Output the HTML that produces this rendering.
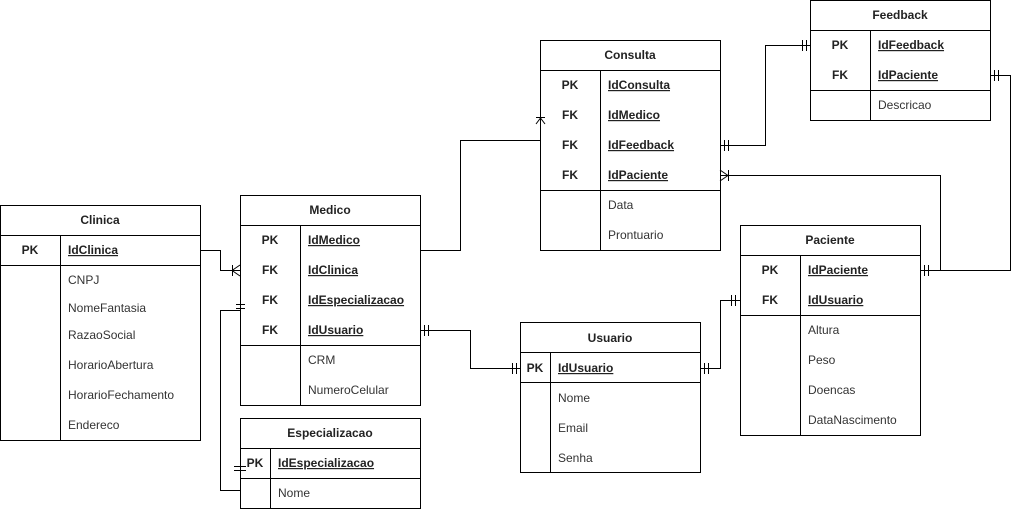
<!DOCTYPE html>
<html><head><meta charset="utf-8"><style>
html,body{margin:0;padding:0;background:#fff}
svg{display:block}
text{font-family:"Liberation Sans",Arial,sans-serif;font-size:12px}
.h{font-weight:bold;fill:#222;text-anchor:middle}
.k{font-weight:bold;fill:#222}
.kc{font-weight:bold;fill:#222;text-anchor:middle}
.a{fill:#333}
</style></head><body>
<svg width="1020" height="509" viewBox="0 0 1020 509">
<g fill="none" stroke="#000" stroke-width="1">
<rect x="0.5" y="205.5" width="200" height="235"/>
<line x1="0" y1="235.5" x2="200" y2="235.5"/><line x1="0" y1="265.5" x2="200" y2="265.5"/>
<line x1="60.5" y1="235" x2="60.5" y2="440"/>
<rect x="240.5" y="195.5" width="180" height="210"/>
<line x1="240" y1="225.5" x2="420" y2="225.5"/><line x1="240" y1="345.5" x2="420" y2="345.5"/>
<line x1="300.5" y1="225" x2="300.5" y2="405"/>
<rect x="240.5" y="418.5" width="180" height="90"/>
<line x1="240" y1="448.5" x2="420" y2="448.5"/><line x1="240" y1="478.5" x2="420" y2="478.5"/>
<line x1="270.5" y1="448" x2="270.5" y2="508"/>
<rect x="540.5" y="40.5" width="180" height="210"/>
<line x1="540" y1="70.5" x2="720" y2="70.5"/><line x1="540" y1="190.5" x2="720" y2="190.5"/>
<line x1="600.5" y1="70" x2="600.5" y2="250"/>
<rect x="810.5" y="0.5" width="180" height="120"/>
<line x1="810" y1="30.5" x2="990" y2="30.5"/><line x1="810" y1="90.5" x2="990" y2="90.5"/>
<line x1="870.5" y1="30" x2="870.5" y2="120"/>
<rect x="740.5" y="225.5" width="180" height="210"/>
<line x1="740" y1="255.5" x2="920" y2="255.5"/><line x1="740" y1="315.5" x2="920" y2="315.5"/>
<line x1="800.5" y1="255" x2="800.5" y2="435"/>
<rect x="520.5" y="322.5" width="180" height="150"/>
<line x1="520" y1="352.5" x2="700" y2="352.5"/><line x1="520" y1="382.5" x2="700" y2="382.5"/>
<line x1="550.5" y1="352" x2="550.5" y2="472"/>

<polyline points="200,250.5 220.5,250.5 220.5,270.5 240,270.5"/>
<line x1="232.5" y1="265" x2="232.5" y2="276"/><line x1="240" y1="265" x2="232" y2="270.5"/><line x1="240" y1="276" x2="232" y2="270.5"/>

<polyline points="240,310.5 220.5,310.5 220.5,490.5 240,490.5"/>
<line x1="236" y1="304.5" x2="245" y2="304.5"/><line x1="236" y1="308.5" x2="245" y2="308.5"/>
<line x1="234" y1="466.5" x2="246" y2="466.5"/><line x1="234" y1="470.5" x2="246" y2="470.5"/>

<polyline points="420,250.5 460.5,250.5 460.5,140.5 540,140.5"/>
<line x1="540.5" y1="112" x2="540.5" y2="125"/>
<line x1="536" y1="117.5" x2="545" y2="117.5"/>
<line x1="540.5" y1="118" x2="536" y2="124"/><line x1="540.5" y1="118" x2="545" y2="124"/>

<polyline points="720,145.5 765.5,145.5 765.5,45.5 810,45.5"/>
<line x1="724.5" y1="140" x2="724.5" y2="151"/><line x1="728.5" y1="140" x2="728.5" y2="151"/>
<line x1="802.5" y1="40" x2="802.5" y2="51"/><line x1="806.5" y1="40" x2="806.5" y2="51"/>

<polyline points="920,270.5 940.5,270.5 940.5,175.5 720,175.5"/>
<line x1="728.5" y1="170" x2="728.5" y2="181"/><line x1="720" y1="170" x2="728" y2="175.5"/><line x1="720" y1="181" x2="728" y2="175.5"/>
<line x1="924.5" y1="265" x2="924.5" y2="276"/><line x1="928.5" y1="265" x2="928.5" y2="276"/>

<polyline points="940,270.5 1010.5,270.5 1010.5,75.5 990,75.5"/>
<line x1="994.5" y1="70" x2="994.5" y2="81"/><line x1="998.5" y1="70" x2="998.5" y2="81"/>

<polyline points="420,330.5 470.5,330.5 470.5,368.5 520,368.5"/>
<line x1="424.5" y1="325" x2="424.5" y2="336"/><line x1="428.5" y1="325" x2="428.5" y2="336"/>
<line x1="512.5" y1="363" x2="512.5" y2="374"/><line x1="516.5" y1="363" x2="516.5" y2="374"/>

<polyline points="700,368.5 720.5,368.5 720.5,300.5 740,300.5"/>
<line x1="704.5" y1="363" x2="704.5" y2="374"/><line x1="708.5" y1="363" x2="708.5" y2="374"/>
<line x1="731.5" y1="295" x2="731.5" y2="306"/><line x1="735.5" y1="295" x2="735.5" y2="306"/>
</g>

<text class="h" x="100" y="224">Clinica</text>
<text class="kc" x="30" y="254">PK</text><text class="k" x="68" y="254" text-decoration="underline">IdClinica</text>
<text class="a" x="68" y="284">CNPJ</text>
<text class="a" x="68" y="312">NomeFantasia</text>
<text class="a" x="68" y="339">RazaoSocial</text>
<text class="a" x="68" y="369">HorarioAbertura</text>
<text class="a" x="68" y="399">HorarioFechamento</text>
<text class="a" x="68" y="429">Endereco</text>
<text class="h" x="330" y="214">Medico</text>
<text class="kc" x="270" y="244">PK</text><text class="k" x="308" y="244" text-decoration="underline">IdMedico</text>
<text class="kc" x="270" y="274">FK</text><text class="k" x="308" y="274" text-decoration="underline">IdClinica</text>
<text class="kc" x="270" y="304">FK</text><text class="k" x="308" y="304" text-decoration="underline">IdEspecializacao</text>
<text class="kc" x="270" y="334">FK</text><text class="k" x="308" y="334" text-decoration="underline">IdUsuario</text>
<text class="a" x="308" y="364">CRM</text>
<text class="a" x="308" y="394">NumeroCelular</text>
<text class="h" x="330" y="437">Especializacao</text>
<text class="kc" x="255" y="467">PK</text><text class="k" x="278" y="467" text-decoration="underline">IdEspecializacao</text>
<text class="a" x="278" y="497">Nome</text>
<text class="h" x="630" y="59">Consulta</text>
<text class="kc" x="570" y="89">PK</text><text class="k" x="608" y="89" text-decoration="underline">IdConsulta</text>
<text class="kc" x="570" y="119">FK</text><text class="k" x="608" y="119" text-decoration="underline">IdMedico</text>
<text class="kc" x="570" y="149">FK</text><text class="k" x="608" y="149" text-decoration="underline">IdFeedback</text>
<text class="kc" x="570" y="179">FK</text><text class="k" x="608" y="179" text-decoration="underline">IdPaciente</text>
<text class="a" x="608" y="209">Data</text>
<text class="a" x="608" y="239">Prontuario</text>
<text class="h" x="900" y="19">Feedback</text>
<text class="kc" x="840" y="49">PK</text><text class="k" x="878" y="49" text-decoration="underline">IdFeedback</text>
<text class="kc" x="840" y="79">FK</text><text class="k" x="878" y="79" text-decoration="underline">IdPaciente</text>
<text class="a" x="878" y="109">Descricao</text>
<text class="h" x="830" y="244">Paciente</text>
<text class="kc" x="770" y="274">PK</text><text class="k" x="808" y="274" text-decoration="underline">IdPaciente</text>
<text class="kc" x="770" y="304">FK</text><text class="k" x="808" y="304" text-decoration="underline">IdUsuario</text>
<text class="a" x="808" y="334">Altura</text>
<text class="a" x="808" y="364">Peso</text>
<text class="a" x="808" y="394">Doencas</text>
<text class="a" x="808" y="424">DataNascimento</text>
<text class="h" x="610" y="342">Usuario</text>
<text class="kc" x="535" y="372">PK</text><text class="k" x="558" y="372" text-decoration="underline">IdUsuario</text>
<text class="a" x="558" y="402">Nome</text>
<text class="a" x="558" y="432">Email</text>
<text class="a" x="558" y="462">Senha</text>
</svg>
</body></html>
